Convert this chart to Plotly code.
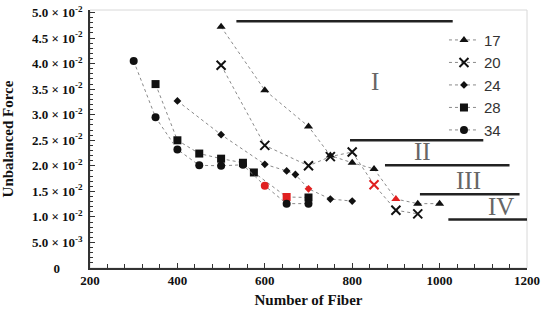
import plotly.graph_objects as go

# ---- data ----
x17 = [500, 600, 700, 750, 800, 850, 900, 950, 1000]
y17 = [0.0472, 0.0348, 0.0277, 0.0220, 0.0206, 0.0194, 0.0135, 0.0126, 0.0126]
red17 = [900]

x20 = [500, 600, 700, 750, 800, 850, 900, 950]
y20 = [0.0397, 0.0240, 0.0200, 0.0218, 0.0227, 0.0163, 0.0113, 0.0106]
red20 = [850]

x24 = [400, 500, 600, 650, 670, 700, 750, 800]
y24 = [0.0327, 0.0261, 0.0203, 0.0190, 0.0183, 0.0155, 0.0135, 0.0131]
red24 = [700]

x28 = [350, 400, 450, 500, 550, 575, 650, 700]
y28 = [0.0360, 0.0250, 0.0224, 0.0214, 0.0206, 0.0187, 0.0139, 0.0138]
red28 = [650]

x34 = [300, 350, 400, 450, 500, 550, 600, 650, 700]
y34 = [0.0405, 0.0295, 0.0232, 0.0201, 0.0200, 0.0202, 0.0161, 0.0126, 0.0126]
red34 = [600]

series_names = ["17", "20", "24", "28", "34"]

# region boundary lines: (x_start, x_end, y)
bound_x0 = [535, 795, 875, 955, 1020]
bound_x1 = [1030, 1100, 1160, 1183, 1200]
bound_y = [0.0483, 0.0250, 0.0201, 0.01445, 0.0095]

region_labels = ["I", "II", "III", "IV"]
region_x = [852, 960, 1065, 1140]
region_y = [0.0365, 0.0228, 0.0171, 0.0120]

xtick_vals = [200, 400, 600, 800, 1000, 1200]
ytick_vals = [0, 0.005, 0.01, 0.015, 0.02, 0.025, 0.03, 0.035, 0.04, 0.045, 0.05]
ytick_text = ["0", "5.0 × 10<sup>-3</sup>", "1.0 × 10<sup>-2</sup>", "1.5 × 10<sup>-2</sup>",
              "2.0 × 10<sup>-2</sup>", "2.5 × 10<sup>-2</sup>", "3.0 × 10<sup>-2</sup>",
              "3.5 × 10<sup>-2</sup>", "4.0 × 10<sup>-2</sup>", "4.5 × 10<sup>-2</sup>",
              "5.0 × 10<sup>-2</sup>"]

# ---- figure ----
fig = go.Figure()

series = [
    (x17, y17, red17, "triangle-up", 8, series_names[0]),
    (x20, y20, red20, "x-thin", 9, series_names[1]),
    (x24, y24, red24, "diamond", 6, series_names[2]),
    (x28, y28, red28, "square", 8, series_names[3]),
    (x34, y34, red34, "circle", 8, series_names[4]),
]

for xs, ys, reds, sym, sz, name in series:
    cols = ["#e02020" if x in reds else "#111111" for x in xs]
    marker = dict(symbol=sym, size=sz, color=cols)
    if sym == "x-thin":
        marker["line"] = dict(color=cols, width=2)
    fig.add_trace(go.Scatter(
        x=xs, y=ys, mode="lines+markers", name=name,
        line=dict(color="#8a8a8a", width=1, dash="dot"),
        marker=marker,
    ))

for x0, x1, yb in zip(bound_x0, bound_x1, bound_y):
    fig.add_trace(go.Scatter(
        x=[x0, x1], y=[yb, yb], mode="lines", showlegend=False,
        line=dict(color="#222222", width=2.5), hoverinfo="skip",
    ))

for lab, lx, ly in zip(region_labels, region_x, region_y):
    fig.add_annotation(x=lx, y=ly, text=lab, showarrow=False,
                       font=dict(family="Liberation Serif", size=25, color="#666666"))

fig.add_shape(type="rect", xref="paper", yref="paper", x0=0, x1=1, y0=0, y1=1,
              line=dict(color="#d8d8d8", width=1), layer="below")

# centre-aligned look for the lone "0" label
ytick_disp = ["<b>%s</b>" % t for t in ytick_text]
ytick_disp[0] = "<b>%s</b>" % ytick_text[0] + "\u00a0" * 7

fig.update_layout(
    width=550, height=322,
    margin=dict(l=90, r=23, t=10, b=54, autoexpand=False),
    paper_bgcolor="white", plot_bgcolor="white",
    showlegend=True,
    legend=dict(x=0.81, y=0.947, xanchor="left", yanchor="top",
                font=dict(family="Liberation Sans", size=15, color="#333333"),
                bgcolor="rgba(0,0,0,0)", tracegroupgap=0, itemwidth=30),
    xaxis=dict(
        range=[200, 1200], tickvals=xtick_vals, ticktext=["<b>%d</b>" % v for v in xtick_vals],
        showgrid=False, zeroline=False, automargin=False, ticklabeloverflow="allow",
        showline=True, linecolor="#333333", linewidth=1.5,
        ticks="inside", ticklen=5, tickcolor="#333333",
        minor=dict(dtick=40, ticks="inside", ticklen=4, tickcolor="#333333"),
        tickfont=dict(family="Liberation Serif", size=13, color="#111111"),
        title=dict(text="<b>Number of Fiber</b>",
                   font=dict(family="Liberation Serif", size=15, color="#111111"),
                   standoff=7),
    ),
    yaxis=dict(
        range=[0, 0.0505], tickvals=ytick_vals, ticktext=ytick_disp,
        showgrid=False, zeroline=False, automargin=False, ticklabeloverflow="allow",
        ticklabelstandoff=3,
        showline=True, linecolor="#333333", linewidth=1.5,
        ticks="inside", ticklen=5, tickcolor="#333333",
        minor=dict(dtick=0.001, ticks="inside", ticklen=3, tickcolor="#333333"),
        tickfont=dict(family="Liberation Serif", size=13, color="#111111"),
        title=dict(text="<b>Unbalanced Force</b>",
                   font=dict(family="Liberation Serif", size=15, color="#111111"),
                   standoff=17),
    ),
)

fig.write_html("out.html",
               config={"displayModeBar": False},
               post_script="document.body.style.margin='0px';document.body.style.overflow='hidden';")
